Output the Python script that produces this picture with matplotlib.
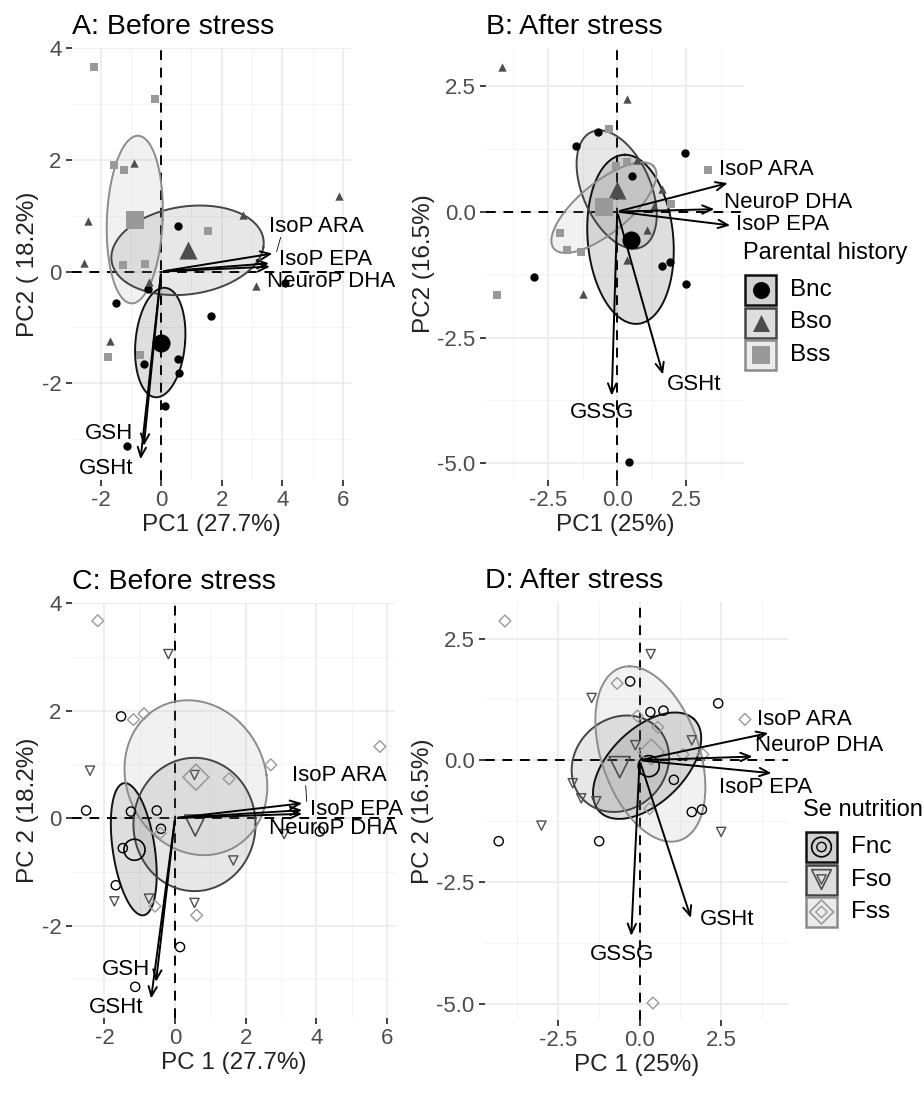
import numpy as np
import matplotlib
matplotlib.use("Agg")
import matplotlib.pyplot as plt
from matplotlib.patches import Rectangle

plt.rcParams['font.family'] = ['Liberation Sans', 'DejaVu Sans']
plt.rcParams['axes.unicode_minus'] = False

# ---------------- data ----------------
# Panel A (before stress, by parental history)
A_nc_x = [0.55, -1.49, -0.44, 1.64, -0.58, 0.55, 0.60, 0.13, -1.13, 4.09]
A_nc_y = [0.82, -0.56, -0.31, -0.79, -1.65, -1.57, -1.81, -2.40, -3.13, -0.20]
A_so_x = [-0.88, -2.40, -2.53, 2.71, 5.85, 3.12, -0.40, -1.68]
A_so_y = [1.95, 0.91, 0.15, 1.02, 1.35, -0.25, -0.18, -1.24]
A_ss_x = [-2.20, -0.20, -1.54, -1.21, 1.56, -1.25, -0.53, -1.74, -0.70]
A_ss_y = [3.66, 3.08, 1.90, 1.82, 0.73, 0.11, 0.13, -1.53, -1.50]
A_cent = {'nc': (0.00, -1.27), 'so': (0.88, 0.39), 'ss': (-0.87, 0.93)}
A_ell = {'nc': ((-0.03, -1.27), (0.82, 0.0), (0.13, 0.98)),
         'so': ((0.87, 0.38), (2.50, 0.05), (0.25, 0.80)),
         'ss': ((-0.87, 0.93), (0.92, 0.0), (0.10, 1.50))}

# Panel B (after stress, by parental history)
B_nc_x = [-0.69, -1.48, 2.44, 0.55, -3.02, 1.60, 1.90, 2.50, 0.42]
B_nc_y = [1.58, 1.30, 1.17, 0.70, -1.30, -1.07, -1.01, -1.44, -4.97]
B_so_x = [-4.16, 0.36, 1.63, 1.33, 1.06, 0.36, -1.25, 0.70]
B_so_y = [2.87, 2.23, 0.44, 0.11, -0.36, -0.97, -1.64, 1.03]
B_ss_x = [-0.29, -0.05, 0.36, 3.27, 1.96, -2.07, -1.80, -1.32, -4.34]
B_ss_y = [1.64, 0.91, 0.99, 0.83, 0.15, -0.43, -0.76, -0.81, -1.65]
B_cent = {'nc': (0.48, -0.56), 'so': (0.00, 0.43), 'ss': (-0.48, 0.10)}
B_ell = {'nc': ((0.48, -0.55), (-0.20, 1.68), (1.55, 0.0)),
         'so': ((-0.02, 0.44), (0.73, -1.17), (1.25, 0.10)),
         'ss': ((-0.48, 0.08), (1.78, 0.83), (-0.66, 0.35))}

# Panel C (before stress, by Se nutrition)
C_nc_x = [-1.53, -2.52, -1.25, -0.52, -0.40, -1.48, -1.68, 0.14, -1.13, 4.10]
C_nc_y = [1.89, 0.14, 0.12, 0.14, -0.20, -0.56, -1.25, -2.40, -3.14, -0.25]
C_so_x = [-0.19, -2.41, 0.55, 1.65, -1.72, -0.74, 0.55, 3.09]
C_so_y = [3.05, 0.88, 0.80, -0.79, -1.55, -1.50, -1.58, -0.30]
C_ss_x = [-2.19, -1.18, -0.88, 2.71, 5.80, 1.53, -0.57, 0.61, -0.42]
C_ss_y = [3.67, 1.83, 1.94, 0.99, 1.33, 0.73, -1.64, -1.81, -0.28]
C_cent = {'nc': (-1.15, -0.59), 'so': (0.57, -0.14), 'ss': (0.59, 0.76)}
C_ell = {'nc': ((-1.17, -0.58), (0.60, 0.0), (-0.25, 1.23)),
         'so': ((0.55, -0.12), (1.73, 0.0), (0.0, 1.24)),
         'ss': ((0.59, 0.75), (2.00, 0.05), (-0.30, 1.44))}

# Panel D (after stress, by Se nutrition)
D_nc_x = [-0.29, 0.33, 0.73, 2.41, 1.05, 1.60, 1.91, -4.32, -1.24]
D_nc_y = [1.62, 0.99, 1.02, 1.17, -0.40, -1.06, -1.01, -1.66, -1.66]
D_so_x = [0.34, -1.47, 1.60, -0.13, -2.05, -1.79, -1.33, -3.01, 2.50]
D_so_y = [2.18, 1.28, 0.41, 0.31, -0.47, -0.78, -0.84, -1.34, -1.47]
D_ss_x = [-4.13, -0.69, 3.23, -0.07, 0.56, 1.33, 1.94, 0.31, 0.41]
D_ss_y = [2.86, 1.58, 0.84, 0.91, 0.68, 0.12, 0.12, -0.99, -4.98]
D_cent = {'nc': (0.28, -0.12), 'so': (-0.61, -0.14), 'ss': (0.36, 0.17)}
D_ell = {'nc': ((0.23, -0.11), (1.43, 0.96), (-0.84, 0.52)),
         'so': ((-0.59, -0.07), (1.48, 0.0), (0.20, 0.99)),
         'ss': ((0.33, 0.13), (-0.64, 1.80), (1.56, 0.0))}

# Loadings (arrow tips) and label anchors
bef_vars = ['IsoP ARA', 'IsoP EPA', 'NeuroP DHA', 'GSH', 'GSHt']
A_tip = [(3.76, 0.33), (3.65, 0.15), (3.68, 0.09), (-0.58, -3.17), (-0.69, -3.41)]
A_lab = [(3.54, 0.81, 'left'), (3.90, 0.21, 'left'), (3.48, -0.18, 'left'),
         (-0.91, -2.89, 'right'), (-0.91, -3.53, 'right')]
C_tip = [(3.68, 0.28), (3.68, 0.15), (3.68, 0.08), (-0.55, -3.10), (-0.69, -3.41)]
C_lab = [(3.30, 0.80, 'left'), (3.82, 0.15, 'left'), (2.67, -0.19, 'left'),
         (-0.70, -2.82, 'right'), (-0.90, -3.53, 'right')]
aft_vars = ['IsoP ARA', 'NeuroP DHA', 'IsoP EPA', 'GSSG', 'GSHt']
B_tip = [(4.09, 0.58), (3.61, 0.05), (4.18, -0.28), (-0.20, -3.71), (1.68, -3.29)]
B_lab = [(3.68, 0.83, 'left'), (3.85, 0.18, 'left'), (4.28, -0.26, 'left'),
         (-0.56, -3.99, 'center'), (1.80, -3.44, 'left')]
D_tip = [(4.03, 0.57), (3.55, 0.08), (4.13, -0.27), (-0.26, -3.66), (1.60, -3.29)]
D_lab = [(3.60, 0.84, 'left'), (3.55, 0.31, 'left'), (2.43, -0.56, 'left'),
         (-0.53, -3.99, 'center'), (1.86, -3.27, 'left')]

groups_B = ['Bnc', 'Bso', 'Bss']
groups_F = ['Fnc', 'Fso', 'Fss']

# ---------------- style ----------------
W, H = 924, 1102
fig = plt.figure(figsize=(W / 100, H / 100), dpi=100)
COL = {'nc': '#000000', 'so': '#4d4d4d', 'ss': '#999999'}
ECOL = {'nc': '#111111', 'so': '#444444', 'ss': '#8c8c8c'}
FILL_ALPHA = 0.13
MK_B = {'nc': 'o', 'so': '^', 'ss': 's'}
MK_F = {'nc': 'o', 'so': 'v', 'ss': 'D'}


def add_ax(x0, y0, x1, y1):
    return fig.add_axes([x0 / W, 1 - y1 / H, (x1 - x0) / W, (y1 - y0) / H])


def style_ax(ax, xlim, ylim, xt, yt, xminor, yminor, xlabel, ylabel, title, xtl=None, ytl=None):
    ax.set_xlim(*xlim)
    ax.set_ylim(*ylim)
    for s in ax.spines.values():
        s.set_visible(False)
    for v in xminor:
        ax.axvline(v, color='#f2f2f2', lw=0.6, zorder=0)
    for v in yminor:
        ax.axhline(v, color='#f2f2f2', lw=0.6, zorder=0)
    for v in xt:
        ax.axvline(v, color='#ebebeb', lw=1.2, zorder=0)
    for v in yt:
        ax.axhline(v, color='#ebebeb', lw=1.2, zorder=0)
    ax.set_xticks(xt)
    ax.set_yticks(yt)
    if xtl:
        ax.set_xticklabels(xtl)
    if ytl:
        ax.set_yticklabels(ytl)
    ax.tick_params(colors='#333333', labelcolor='#4d4d4d', labelsize=16, length=4, width=1.3)
    ax.set_xlabel(xlabel, fontsize=17.5, color='#222222', labelpad=2)
    ax.set_ylabel(ylabel, fontsize=17.5, color='#222222', labelpad=2)
    ax.set_title(title, loc='left', fontsize=20.5, pad=10)
    ax.axhline(0, color='black', ls=(0, (5, 4)), lw=1.4, zorder=1)
    ax.axvline(0, color='black', ls=(0, (5, 4)), lw=1.4, zorder=1)


def draw_ell(ax, spec, g):
    (cx, cy), (ax_, ay_), (bx, by) = spec
    t = np.linspace(0, 2 * np.pi, 200)
    xs = cx + ax_ * np.cos(t) + bx * np.sin(t)
    ys = cy + ay_ * np.cos(t) + by * np.sin(t)
    ax.fill(xs, ys, color=COL[g], alpha=FILL_ALPHA, lw=0, zorder=2)
    ax.plot(xs, ys, color=ECOL[g], lw=1.4, zorder=3)


def draw_arrows(ax, names, tips, labs, leader=False):
    for n, (tx, ty), (lx, ly, ha) in zip(names, tips, labs):
        ax.annotate('', xy=(tx, ty), xytext=(0, 0),
                    arrowprops=dict(arrowstyle='->,head_length=0.7,head_width=0.3',
                                    color='black', lw=1.4), zorder=6)
        ax.text(lx, ly, n, ha=ha, va='center', fontsize=16, zorder=7)
    if leader:
        (tx, ty), (lx, ly, _) = tips[0], labs[0]
        ax.plot([lx + 0.4, tx + 0.05], [ly - 0.2, ty + 0.03], color='black', lw=0.6, zorder=6)


def panel_filled(ax, data, cent, ell):
    for g in ['nc', 'so', 'ss']:
        draw_ell(ax, ell[g], g)
    for g in ['nc', 'so', 'ss']:
        x, y = data[g]
        ax.scatter(x, y, marker=MK_B[g], s=36, color=COL[g], lw=0, zorder=4)
        ax.scatter([cent[g][0]], [cent[g][1]], marker=MK_B[g], s=170, color=COL[g], lw=0, zorder=5)


def panel_open(ax, data, cent, ell):
    for g in ['nc', 'so', 'ss']:
        draw_ell(ax, ell[g], g)
    for g in ['nc', 'so', 'ss']:
        x, y = data[g]
        ax.scatter(x, y, marker=MK_F[g], s=44 if g != 'ss' else 36, facecolor='none',
                   edgecolor=COL[g], lw=1.0, zorder=4)
        ax.scatter([cent[g][0]], [cent[g][1]], marker=MK_F[g], s=230 if g != 'ss' else 175,
                   facecolor='none', edgecolor=COL[g], lw=1.2, zorder=5)


# Panel A
axA = add_ax(72, 48, 351, 480)
style_ax(axA, (-2.94, 6.26), (-3.73, 4.0), [-2, 0, 2, 4, 6], [-2, 0, 2, 4],
         [-3, -1, 1, 3, 5], [-3, -1, 1, 3], 'PC1 (27.7%)', 'PC2 ( 18.2%)', 'A: Before stress')
panel_filled(axA, {'nc': (A_nc_x, A_nc_y), 'so': (A_so_x, A_so_y), 'ss': (A_ss_x, A_ss_y)}, A_cent, A_ell)
draw_arrows(axA, bef_vars, A_tip, A_lab, leader=True)

# Panel B
axB = add_ax(486, 48, 744, 480)
style_ax(axB, (-4.74, 4.58), (-5.33, 3.25), [-2.5, 0, 2.5], [-5, -2.5, 0, 2.5],
         [-3.75, -1.25, 1.25, 3.75], [-3.75, -1.25, 1.25], 'PC1 (25%)', 'PC2 (16.5%)', 'B: After stress',
         xtl=['-2.5', '0.0', '2.5'], ytl=['-5.0', '-2.5', '0.0', '2.5'])
panel_filled(axB, {'nc': (B_nc_x, B_nc_y), 'so': (B_so_x, B_so_y), 'ss': (B_ss_x, B_ss_y)}, B_cent, B_ell)
draw_arrows(axB, aft_vars, B_tip, B_lab)

# Panel C
axC = add_ax(72, 603, 395, 1018)
style_ax(axC, (-2.92, 6.23), (-3.72, 4.0), [-2, 0, 2, 4, 6], [-2, 0, 2, 4],
         [-3, -1, 1, 3, 5], [-3, -1, 1, 3], 'PC 1 (27.7%)', 'PC 2 (18.2%)', 'C: Before stress')
panel_open(axC, {'nc': (C_nc_x, C_nc_y), 'so': (C_so_x, C_so_y), 'ss': (C_ss_x, C_ss_y)}, C_cent, C_ell)
draw_arrows(axC, bef_vars, C_tip, C_lab, leader=True)

# Panel D
axD = add_ax(485, 602, 788, 1020)
style_ax(axD, (-4.74, 4.55), (-5.33, 3.25), [-2.5, 0, 2.5], [-5, -2.5, 0, 2.5],
         [-3.75, -1.25, 1.25, 3.75], [-3.75, -1.25, 1.25], 'PC 1 (25%)', 'PC 2 (16.5%)', 'D: After stress',
         xtl=['-2.5', '0.0', '2.5'], ytl=['-5.0', '-2.5', '0.0', '2.5'])
panel_open(axD, {'nc': (D_nc_x, D_nc_y), 'so': (D_so_x, D_so_y), 'ss': (D_ss_x, D_ss_y)}, D_cent, D_ell)
draw_arrows(axD, aft_vars, D_tip, D_lab)

# ---------------- legends ----------------
lg = fig.add_axes([0, 0, 1, 1])
lg.set_xlim(0, W)
lg.set_ylim(H, 0)
lg.axis('off')


def legend(title, tx, ty, bx, by0, names, filled):
    lg.text(tx, ty, title, fontsize=17, va='center', ha='left')
    for i, (g, n) in enumerate(zip(['nc', 'so', 'ss'], names)):
        y0 = by0 + i * 32.5
        lg.add_patch(Rectangle((bx, y0), 31, 30, facecolor=COL[g], alpha=FILL_ALPHA + 0.05, lw=0))
        lg.add_patch(Rectangle((bx, y0), 31, 30, facecolor='none', edgecolor=ECOL[g], lw=1.8))
        cx, cy = bx + 15.5, y0 + 15
        if filled:
            lg.scatter([cx], [cy], marker=MK_B[g], s=150, color=COL[g], lw=0)
        else:
            mk = MK_F[g]
            lg.scatter([cx], [cy], marker=mk, s=200 if g != 'ss' else 150, facecolor='none', edgecolor=COL[g], lw=1.2)
            lg.scatter([cx], [cy], marker=mk, s=45 if g != 'ss' else 35, facecolor='none', edgecolor=COL[g], lw=1.0)
        lg.text(bx + 45, cy, n, fontsize=17.5, va='center', ha='left')


legend('Parental history', 743, 253, 745, 275, groups_B, True)
legend('Se nutrition', 803, 810, 806, 832, groups_F, False)

fig.savefig('out.png', dpi=100)
